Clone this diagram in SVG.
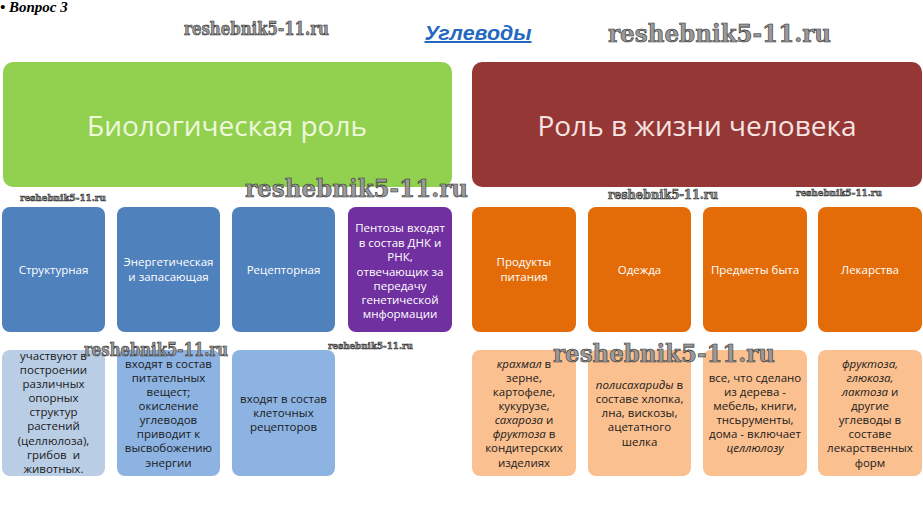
<svg xmlns="http://www.w3.org/2000/svg" width="923" height="509" viewBox="0 0 923 509">
<style>
.wm{font-family:"DejaVu Serif","Liberation Serif",serif;font-weight:bold;fill:#9a9a9a;stroke:#2a2a2a;stroke-width:0.6;}
.h{font-family:"Open Sans","Noto Sans",sans-serif;font-size:28px;text-anchor:middle;}
.t{font-family:"Open Sans","Noto Sans",sans-serif;font-size:11.5px;text-anchor:middle;}
.w{fill:#ffffff;}
.k{fill:#1a1a1a;}
.i{font-style:italic;}
</style>
<rect width="923" height="509" fill="#ffffff"/>
<text x="0" y="12" font-family="Liberation Serif,serif" font-size="15" font-weight="bold" font-style="italic" fill="#000">• Вопрос 3</text>
<text x="478" y="40" font-family="Liberation Sans,Arial,sans-serif" font-size="20" font-weight="bold" font-style="italic" fill="#2468c0" text-anchor="middle" text-decoration="underline" textLength="107" lengthAdjust="spacingAndGlyphs">Углеводы</text>

<g id="bio-role">
<rect x="3" y="62" width="449" height="125" rx="10" fill="#92d050"/>
<text class="h" x="227" y="136" fill="#eef8dc">Биологическая роль</text>
</g>
<g id="human-role">
<rect x="472" y="62" width="450" height="125" rx="10" fill="#953735"/>
<text class="h" x="697" y="136" fill="#f6e4e2">Роль в жизни человека</text>
</g>

<g id="struct">
<rect x="2" y="207" width="103" height="125" rx="8" fill="#4f81bd"/>
<text class="t w" x="53.5" y="274">Структурная</text>
</g>
<g id="energy">
<rect x="117" y="207" width="103" height="125" rx="8" fill="#4f81bd"/>
<text class="t w" x="168.5" y="266">Энергетическая</text>
<text class="t w" x="168.5" y="281">и запасающая</text>
</g>
<g id="receptor">
<rect x="232" y="207" width="103" height="125" rx="8" fill="#4f81bd"/>
<text class="t w" x="283.5" y="274">Рецепторная</text>
</g>
<g id="pentose">
<rect x="348" y="207" width="104" height="125" rx="8" fill="#7030a0"/>
<text class="t w" x="400" y="232">Пентозы входят</text>
<text class="t w" x="400" y="247">в состав ДНК и</text>
<text class="t w" x="400" y="261">РНК,</text>
<text class="t w" x="400" y="276">отвечающих за</text>
<text class="t w" x="400" y="290">передачу</text>
<text class="t w" x="400" y="304">генетической</text>
<text class="t w" x="400" y="318">мнформации</text>
</g>

<g id="food">
<rect x="472" y="207" width="104" height="125" rx="8" fill="#e36c09"/>
<text class="t w" x="524" y="266">Продукты</text>
<text class="t w" x="524" y="281">питания</text>
</g>
<g id="clothes">
<rect x="588" y="207" width="103" height="125" rx="8" fill="#e36c09"/>
<text class="t w" x="639.5" y="274">Одежда</text>
</g>
<g id="household">
<rect x="703" y="207" width="104" height="125" rx="8" fill="#e36c09"/>
<text class="t w" x="755" y="274">Предметы быта</text>
</g>
<g id="medicine">
<rect x="818" y="207" width="104" height="125" rx="8" fill="#e36c09"/>
<text class="t w" x="870" y="274">Лекарства</text>
</g>

<g id="struct-desc">
<rect x="2" y="350" width="103" height="126" rx="8" fill="#b9cde5"/>
<text class="t k" x="53.5" y="360">участвуют в</text>
<text class="t k" x="53.5" y="374">построении</text>
<text class="t k" x="53.5" y="388">различных</text>
<text class="t k" x="53.5" y="402">опорных</text>
<text class="t k" x="53.5" y="416">структур</text>
<text class="t k" x="53.5" y="430">растений</text>
<text class="t k" x="53.5" y="445">(целлюлоза),</text>
<text class="t k" x="53.5" y="459" xml:space="preserve">грибов  и</text>
<text class="t k" x="53.5" y="473">животных.</text>
</g>
<g id="energy-desc">
<rect x="117" y="350" width="103" height="126" rx="8" fill="#8db3e2"/>
<text class="t k" x="168.5" y="368">входят в состав</text>
<text class="t k" x="168.5" y="382">питательных</text>
<text class="t k" x="168.5" y="396">вещест;</text>
<text class="t k" x="168.5" y="410">окисление</text>
<text class="t k" x="168.5" y="424">углеводов</text>
<text class="t k" x="168.5" y="438">приводит к</text>
<text class="t k" x="168.5" y="452">высвобожению</text>
<text class="t k" x="168.5" y="467">энергии</text>
</g>
<g id="receptor-desc">
<rect x="232" y="350" width="103" height="126" rx="8" fill="#8db3e2"/>
<text class="t k" x="283.5" y="403">входят в состав</text>
<text class="t k" x="283.5" y="417">клеточных</text>
<text class="t k" x="283.5" y="431">рецепторов</text>
</g>

<g id="food-desc">
<rect x="472" y="350" width="104" height="126" rx="8" fill="#fac090"/>
<text class="t k" x="524" y="368"><tspan class="i">крахмал</tspan> в</text>
<text class="t k" x="524" y="382">зерне,</text>
<text class="t k" x="524" y="396">картофеле,</text>
<text class="t k" x="524" y="410">кукурузе,</text>
<text class="t k" x="524" y="424"><tspan class="i">сахароза</tspan> и</text>
<text class="t k" x="524" y="438"><tspan class="i">фруктоза</tspan> в</text>
<text class="t k" x="524" y="452">кондитерских</text>
<text class="t k" x="524" y="467">изделиях</text>
</g>
<g id="clothes-desc">
<rect x="588" y="350" width="103" height="126" rx="8" fill="#fac090"/>
<text class="t k" x="639.5" y="389"><tspan class="i">полисахариды</tspan> в</text>
<text class="t k" x="639.5" y="403">составе хлопка,</text>
<text class="t k" x="639.5" y="417">лна, вискозы,</text>
<text class="t k" x="639.5" y="431">ацетатного</text>
<text class="t k" x="639.5" y="446">шелка</text>
</g>
<g id="household-desc">
<rect x="703" y="350" width="104" height="126" rx="8" fill="#fac090"/>
<text class="t k" x="755" y="382">все, что сделано</text>
<text class="t k" x="755" y="396">из дерева -</text>
<text class="t k" x="755" y="410">мебель, книги,</text>
<text class="t k" x="755" y="424">тнсьрументы,</text>
<text class="t k" x="755" y="438">дома - включает</text>
<text class="t k i" x="755" y="452">целлюлозу</text>
</g>
<g id="medicine-desc">
<rect x="818" y="350" width="104" height="126" rx="8" fill="#fac090"/>
<text class="t k i" x="870" y="368">фруктоза,</text>
<text class="t k i" x="870" y="382">глюкоза,</text>
<text class="t k" x="870" y="396"><tspan class="i">лактоза</tspan> и</text>
<text class="t k" x="870" y="410">другие</text>
<text class="t k" x="870" y="424">углеводы в</text>
<text class="t k" x="870" y="438">составе</text>
<text class="t k" x="870" y="452">лекарственных</text>
<text class="t k" x="870" y="467">форм</text>
</g>

<g id="connectors"></g>

<g id="watermarks">
<text class="wm" x="184" y="35" font-size="18" textLength="145" lengthAdjust="spacingAndGlyphs">reshebnik5-11.ru</text>
<text class="wm" x="608" y="42" font-size="25" textLength="223" lengthAdjust="spacingAndGlyphs">reshebnik5-11.ru</text>
<text class="wm" x="20" y="201" font-size="10" textLength="86" lengthAdjust="spacingAndGlyphs">reshebnik5-11.ru</text>
<text class="wm" x="245" y="197" font-size="25" textLength="223" lengthAdjust="spacingAndGlyphs">reshebnik5-11.ru</text>
<text class="wm" x="608" y="199" font-size="12" textLength="110" lengthAdjust="spacingAndGlyphs">reshebnik5-11.ru</text>
<text class="wm" x="796" y="196" font-size="10" textLength="86" lengthAdjust="spacingAndGlyphs">reshebnik5-11.ru</text>
<text class="wm" x="84" y="356" font-size="18" textLength="144" lengthAdjust="spacingAndGlyphs">reshebnik5-11.ru</text>
<text class="wm" x="328" y="349" font-size="10" textLength="85" lengthAdjust="spacingAndGlyphs">reshebnik5-11.ru</text>
<text class="wm" x="553" y="362" font-size="25" textLength="222" lengthAdjust="spacingAndGlyphs">reshebnik5-11.ru</text>
</g>
</svg>
